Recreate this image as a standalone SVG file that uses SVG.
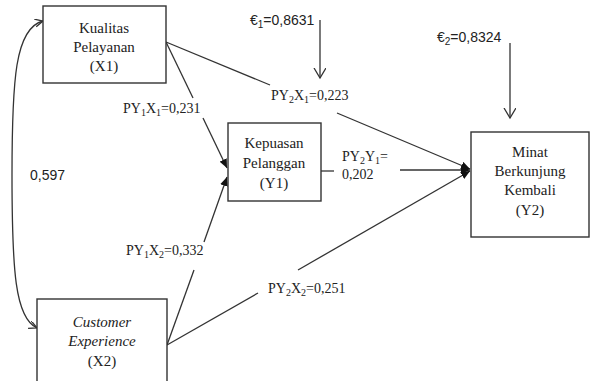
<svg xmlns="http://www.w3.org/2000/svg" width="591" height="381" viewBox="0 0 591 381">
<style>
.box{fill:#fff;stroke:#333;stroke-width:1.4}
.t{font-family:'Liberation Serif','DejaVu Serif',serif;font-size:15px;fill:#222;text-anchor:middle}
.lab{font-family:'Liberation Serif','DejaVu Serif',serif;font-size:14px;fill:#222}
.sub{font-size:10px}
.sans{font-family:'Liberation Sans',Arial,sans-serif;font-size:14px;fill:#222}
.ln{fill:none;stroke:#333;stroke-width:1.3}
</style>
<defs>
<marker id="fa" markerUnits="userSpaceOnUse" markerWidth="10" markerHeight="8" refX="9" refY="4" orient="auto"><path d="M0,0 L9,4 L0,8 z" fill="#111"/></marker>
<marker id="oa" markerUnits="userSpaceOnUse" markerWidth="12" markerHeight="14" refX="10" refY="6" orient="auto"><path d="M0,0 L10,6 L0,12" fill="none" stroke="#333" stroke-width="1.3"/></marker>
<marker id="ca" markerUnits="userSpaceOnUse" markerWidth="10" markerHeight="10" refX="8" refY="4" orient="auto-start-reverse"><path d="M0,0 L8,4 L0,8" fill="none" stroke="#333" stroke-width="1.3"/></marker>
</defs>
<rect width="591" height="381" fill="#fff"/>
<g id="connectors">
<path class="ln" d="M43,21 C15,28 12,80 12,175 C12,270 15,318 37,328" marker-start="url(#ca)" marker-end="url(#ca)"/>
<line class="ln" x1="166" y1="42" x2="270" y2="85"/>
<line class="ln" x1="337" y1="113" x2="470" y2="169" marker-end="url(#fa)"/>
<line class="ln" x1="166" y1="42" x2="193" y2="98"/>
<line class="ln" x1="203" y1="118" x2="227" y2="168" marker-end="url(#fa)"/>
<line class="ln" x1="167" y1="345" x2="194" y2="270"/>
<line class="ln" x1="204" y1="242" x2="227" y2="177" marker-end="url(#fa)"/>
<line class="ln" x1="167" y1="345" x2="258" y2="293"/>
<line class="ln" x1="298" y1="270" x2="470" y2="171" marker-end="url(#fa)"/>
<line class="ln" x1="321" y1="171" x2="334" y2="171"/>
<line class="ln" x1="400" y1="170" x2="470" y2="170" marker-end="url(#fa)"/>
<line class="ln" x1="320" y1="20" x2="320" y2="78" marker-end="url(#oa)"/>
<line class="ln" x1="510" y1="43" x2="510" y2="118" marker-end="url(#oa)"/>
</g>
<g id="X1">
<rect class="box" x="43" y="6" width="123" height="77"/>
<text class="t" x="104" y="33">Kualitas</text>
<text class="t" x="104" y="52">Pelayanan</text>
<text class="t" x="104" y="71">(X1)</text>
</g>
<g id="X2">
<rect class="box" x="37" y="299" width="130" height="90"/>
<text class="t" x="102" y="327" font-style="italic">Customer</text>
<text class="t" x="102" y="346" font-style="italic">Experience</text>
<text class="t" x="102" y="366">(X2)</text>
</g>
<g id="Y1">
<rect class="box" x="228" y="123" width="93" height="78"/>
<text class="t" x="274" y="148">Kepuasan</text>
<text class="t" x="274" y="168">Pelanggan</text>
<text class="t" x="274" y="188">(Y1)</text>
</g>
<g id="Y2">
<rect class="box" x="471" y="132" width="118" height="105"/>
<text class="t" x="530" y="157">Minat</text>
<text class="t" x="530" y="176">Berkunjung</text>
<text class="t" x="530" y="195">Kembali</text>
<text class="t" x="530" y="215">(Y2)</text>
</g>
<g id="labels">
<text class="lab" x="123" y="113">PY<tspan class="sub" dy="3">1</tspan><tspan dy="-3">X</tspan><tspan class="sub" dy="3">1</tspan><tspan dy="-3">=0,231</tspan></text>
<text class="lab" x="271" y="100">PY<tspan class="sub" dy="3">2</tspan><tspan dy="-3">X</tspan><tspan class="sub" dy="3">1</tspan><tspan dy="-3">=0,223</tspan></text>
<text class="lab" x="126" y="255">PY<tspan class="sub" dy="3">1</tspan><tspan dy="-3">X</tspan><tspan class="sub" dy="3">2</tspan><tspan dy="-3">=0,332</tspan></text>
<text class="lab" x="268" y="293">PY<tspan class="sub" dy="3">2</tspan><tspan dy="-3">X</tspan><tspan class="sub" dy="3">2</tspan><tspan dy="-3">=0,251</tspan></text>
<text class="lab" x="342" y="161">PY<tspan class="sub" dy="3">2</tspan><tspan dy="-3">Y</tspan><tspan class="sub" dy="3">1</tspan><tspan dy="-3">=</tspan></text>
<text class="lab" x="342" y="179">0,202</text>
<text class="sans" x="30" y="180">0,597</text>
<text class="sans" x="250" y="25">€<tspan font-size="10" dy="3">1</tspan><tspan dy="-3">=0,8631</tspan></text>
<text class="sans" x="437" y="42">€<tspan font-size="10" dy="3">2</tspan><tspan dy="-3">=0,8324</tspan></text>
</g>
</svg>
